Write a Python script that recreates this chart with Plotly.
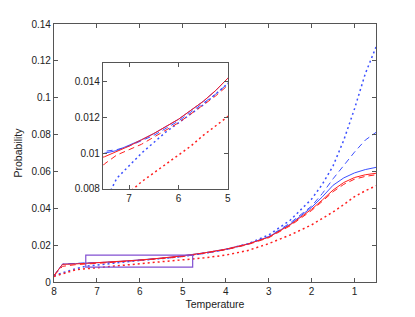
import plotly.graph_objects as go

# ---- data ----
temperature = [8.0, 7.8, 7.5, 7.25, 7.0, 6.75, 6.5, 6.25, 6.0, 5.75, 5.5, 5.25, 5.0,
               4.5, 4.0, 3.5, 3.0, 2.5, 2.0, 1.75, 1.5, 1.25, 1.0, 0.75, 0.5]

blue_solid = [0.0035, 0.0097, 0.0100, 0.01015, 0.01045, 0.01075, 0.0111, 0.0115, 0.0119,
              0.0124, 0.0129, 0.0135, 0.0142,
              0.0158, 0.0178, 0.0205, 0.0245, 0.0313, 0.0405, 0.0462, 0.0525, 0.0565,
              0.0592, 0.0610, 0.0622]
blue_dashed = [0.0035, 0.0097, 0.0101, 0.0102, 0.0104, 0.0107, 0.0110, 0.0114, 0.0118,
               0.0123, 0.0128, 0.0133, 0.0139,
               0.0155, 0.0176, 0.0204, 0.0246, 0.0320, 0.0412, 0.0480, 0.0560, 0.0635,
               0.0705, 0.0770, 0.0812]
blue_dotted = [0.0035, 0.0050, 0.0072, 0.0086, 0.0093, 0.0100, 0.0106, 0.0112, 0.0117,
               0.0122, 0.0127, 0.0133, 0.0139,
               0.0156, 0.0177, 0.0206, 0.0255, 0.0335, 0.0450, 0.0530, 0.0630, 0.0770,
               0.0940, 0.1130, 0.1275]
red_solid = [0.0035, 0.0096, 0.0098, 0.0101, 0.0104, 0.01075, 0.0111, 0.0115, 0.0119,
             0.0124, 0.0129, 0.0135, 0.0142,
             0.0158, 0.0178, 0.0205, 0.0243, 0.0310, 0.0395, 0.0445, 0.0499, 0.0540,
             0.0567, 0.0582, 0.0590]
red_dashed = [0.0035, 0.0085, 0.0094, 0.0099, 0.0102, 0.0105, 0.0109, 0.0113, 0.0117,
              0.0122, 0.0127, 0.0132, 0.0138,
              0.0155, 0.0175, 0.0202, 0.0240, 0.0305, 0.0388, 0.0438, 0.0490, 0.0530,
              0.0558, 0.0573, 0.0582]
red_dotted = [0.0030, 0.0045, 0.0066, 0.0072, 0.0078, 0.0084, 0.0089, 0.0094, 0.0099,
              0.0104, 0.0110, 0.0115, 0.0120,
              0.0131, 0.0146, 0.0170, 0.0208, 0.0255, 0.0310, 0.0345, 0.0380, 0.0420,
              0.0463, 0.0495, 0.0522]

x_ticks = [8, 7, 6, 5, 4, 3, 2, 1]
y_ticks = [0, 0.02, 0.04, 0.06, 0.08, 0.1, 0.12, 0.14]
y_tick_labels = ["0", "0.02", "0.04", "0.06", "0.08", "0.1", "0.12", "0.14"]
inset_x_ticks = [7, 6, 5]
inset_y_ticks = [0.008, 0.01, 0.012, 0.014]
inset_y_tick_labels = ["0.008", "0.01", "0.012", "0.014"]
zoom_box_x = [7.26, 4.77]
zoom_box_y = [0.0081, 0.0146]

# ---- styles ----
BLUE = "rgb(60,80,255)"
RED = "rgb(255,30,30)"
series = [
    (blue_dotted, BLUE, "2px,3px", 1.5),
    (blue_dashed, BLUE, "6px,4px", 1.0),
    (blue_solid, BLUE, "solid", 1.0),
    (red_dotted, RED, "2px,3px", 1.5),
    (red_dashed, RED, "6px,4px", 1.0),
    (red_solid, RED, "solid", 1.0),
]

fig = go.Figure()
for xa, ya in [("x", "y"), ("x2", "y2")]:
    for vals, col, dash, w in series:
        fig.add_trace(go.Scatter(x=temperature, y=vals, mode="lines",
                                 line=dict(color=col, dash=dash, width=w),
                                 xaxis=xa, yaxis=ya, showlegend=False,
                                 hoverinfo="skip"))

fig.add_shape(type="rect", xref="x", yref="y",
              x0=zoom_box_x[0], x1=zoom_box_x[1], y0=zoom_box_y[0], y1=zoom_box_y[1],
              line=dict(color="rgb(130,80,210)", width=1.2))

FONT = "Liberation Sans, Arial, sans-serif"
axis_common = dict(showline=True, linecolor="#555", linewidth=1.2, mirror="ticks",
                   ticks="inside", ticklen=4, tickcolor="#555", showgrid=False,
                   zeroline=False, automargin=False,
                   tickfont=dict(size=10, color="#222"))

# page body has an 8px margin, so the figure is offset by 8px
fig.update_layout(
    width=407, height=309,
    margin=dict(l=46, r=39, t=16, b=35),
    paper_bgcolor="white", plot_bgcolor="white",
    font=dict(family=FONT, color="#222"),
    xaxis=dict(range=[8, 0.5], tickvals=x_ticks, domain=[0, 1],
               title=dict(text="Temperature", font=dict(size=10.5), standoff=4),
               **axis_common),
    yaxis=dict(range=[0, 0.14], tickvals=y_ticks, ticktext=y_tick_labels, domain=[0, 1],
               title=dict(text="Probability", font=dict(size=10.5), standoff=6),
               **axis_common),
    xaxis2=dict(range=[7.53, 5], tickvals=inset_x_ticks, anchor="y2",
                domain=[0.152, 0.540], **axis_common),
    yaxis2=dict(range=[0.008, 0.01505], tickvals=inset_y_ticks,
                ticktext=inset_y_tick_labels, anchor="x2",
                domain=[0.3605, 0.849], **axis_common),
)

fig.write_html("out.html")
